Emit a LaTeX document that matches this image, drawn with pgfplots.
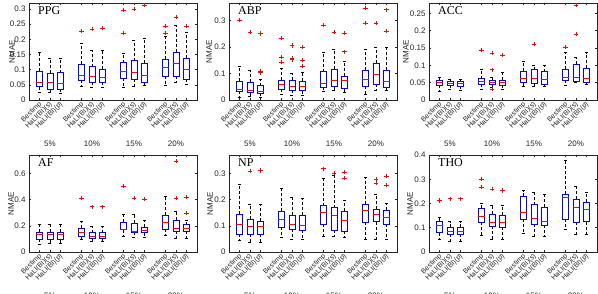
\documentclass[border=0pt]{standalone}
\usepackage{fontspec}
\setmainfont{Liberation Sans}
\newfontfamily\ttlfont{Liberation Serif}
\usepackage{pgfplots}
\pgfplotsset{compat=1.18}
\usepgfplotslibrary{statistics}

\definecolor{mblue}{rgb}{0,0,1}
\definecolor{mred}{rgb}{1,0,0}
\definecolor{axgray}{rgb}{0.15,0.15,0.15}

\pgfplotsset{
  bxs/.style={draw=mblue, line width=0.5pt, solid,
    mark=+, mark size=2.1pt, mark options={draw=mred, solid, line width=0.4pt},
    boxplot/draw direction=y,
    boxplot/box extend=0.6,
    boxplot/whisker extend=0.3,
    boxplot/every median/.style={draw=mred, solid, line width=0.5pt},
    boxplot/every whisker/.style={draw=black, line width=0.4pt, dash pattern=on 3pt off 2pt}},
  panel/.style={scale only axis, width=168pt, height=97pt,
    xmin=0, xmax=16, ymin=0, clip=false,
    axis line style={axgray, line width=0.5pt},
    tick style={axgray, line width=0.5pt},
    tick align=inside, major tick length=2pt,
    xtick={1,2,3,5,6,7,9,10,11,13,14,15},
    xticklabels={Bestimp,HaLI(BI)(s),HaLI(BI)(p),Bestimp,HaLI(BI)(s),HaLI(BI)(p),Bestimp,HaLI(BI)(s),HaLI(BI)(p),Bestimp,HaLI(BI)(s),HaLI(BI)(p)},
    xticklabel style={font=\fontsize{7}{8}\selectfont, rotate=45, anchor=east, text=axgray, yshift=-3pt, xshift=2pt},
    scaled y ticks=false,
    /pgf/number format/assume math mode=true,
    yticklabel style={font=\fontsize{8}{9}\selectfont, text=axgray, /pgf/number format/fixed, /pgf/number format/precision=2},
    ylabel={NMAE},
  }
}
\newcommand{\yl}[1]{\pgfplotsset{ylabel style={font=\fontsize{8}{9}\selectfont, text=axgray, at={(axis description cs:#1,0.5)}, anchor=center}}}
\newcommand{\bx}[7]{\addplot[bxs, boxplot prepared={draw position=#1, lower whisker=#2, lower quartile=#3, median=#4, upper quartile=#5, upper whisker=#6}] coordinates {#7};}
\newcommand{\grp}{%
  \node[font=\fontsize{8}{9}\selectfont, text=axgray, yshift=-44pt] at (axis cs:2,0) {5\%};
  \node[font=\fontsize{8}{9}\selectfont, text=axgray, yshift=-44pt] at (axis cs:6,0) {10\%};
  \node[font=\fontsize{8}{9}\selectfont, text=axgray, yshift=-44pt] at (axis cs:10,0) {15\%};
  \node[font=\fontsize{8}{9}\selectfont, text=axgray, yshift=-44pt] at (axis cs:14,0) {20\%};}
\newcommand{\ttl}[1]{\node[anchor=base west, inner sep=0pt, xshift=9pt, yshift=-11.5pt, font=\ttlfont\fontsize{12}{12}\selectfont] at (rel axis cs:0,1) {#1};}

\begin{document}
\begin{tikzpicture}
% PPG
\begin{axis}[panel, at={(29pt,194pt)}, anchor=south west, ymax=0.32,
  ytick={0,0.05,0.1,0.15,0.2,0.25,0.3}, ylabel style={font=\fontsize{8}{9}\selectfont, text=axgray, at={(axis description cs:-0.101,0.5)}, anchor=center}]
\bx{1}{0.027}{0.044}{0.057}{0.096}{0.159}{}
\bx{2}{0.025}{0.035}{0.059}{0.088}{0.137}{}
\bx{3}{0.024}{0.035}{0.055}{0.090}{0.137}{}
\bx{5}{0.046}{0.066}{0.081}{0.119}{0.187}{(0,0.227)}
\bx{6}{0.042}{0.060}{0.077}{0.110}{0.163}{(0,0.233)}
\bx{7}{0.041}{0.059}{0.075}{0.101}{0.163}{(0,0.237)}
\bx{9}{0.041}{0.071}{0.096}{0.123}{0.156}{(0,0.222)(0,0.296)}
\bx{10}{0.044}{0.069}{0.092}{0.130}{0.198}{(0,0.300)}
\bx{11}{0.049}{0.060}{0.082}{0.121}{0.203}{(0,0.313)}
\bx{13}{0.049}{0.079}{0.108}{0.134}{0.210}{(0,0.222)(0,0.244)}
\bx{14}{0.060}{0.079}{0.121}{0.157}{0.247}{(0,0.273)}
\bx{15}{0.052}{0.068}{0.103}{0.137}{0.225}{(0,0.244)}
\grp
\ttl{PPG}
\end{axis}
% ABP
\begin{axis}[panel, at={(229pt,194pt)}, anchor=south west, ymax=0.365,
  ytick={0,0.1,0.2,0.3}, ylabel style={font=\fontsize{8}{9}\selectfont, text=axgray, at={(axis description cs:-0.119,0.5)}, anchor=center}]
\bx{1}{0.009}{0.032}{0.042}{0.072}{0.126}{(0,0.300)}
\bx{2}{0.013}{0.028}{0.038}{0.066}{0.113}{(0,0.256)}
\bx{3}{0.010}{0.025}{0.034}{0.054}{0.080}{(0,0.103)(0,0.107)(0,0.250)}
\bx{5}{0.021}{0.040}{0.060}{0.076}{0.120}{(0,0.142)(0,0.161)(0,0.233)}
\bx{6}{0.019}{0.038}{0.053}{0.076}{0.100}{(0,0.152)(0,0.156)(0,0.205)(0,0.207)}
\bx{7}{0.019}{0.035}{0.053}{0.072}{0.103}{(0,0.129)(0,0.149)(0,0.199)}
\bx{9}{0.032}{0.048}{0.064}{0.107}{0.180}{(0,0.282)}
\bx{10}{0.035}{0.050}{0.076}{0.116}{0.192}{(0,0.256)}
\bx{11}{0.030}{0.043}{0.073}{0.091}{0.145}{(0,0.182)(0,0.251)}
\bx{13}{0.021}{0.053}{0.078}{0.111}{0.192}{(0,0.290)(0,0.347)}
\bx{14}{0.038}{0.059}{0.098}{0.139}{0.199}{(0,0.290)}
\bx{15}{0.035}{0.048}{0.071}{0.111}{0.198}{(0,0.260)(0,0.340)}
\grp
\ttl{ABP}
\end{axis}
% ACC
\begin{axis}[panel, at={(429pt,194pt)}, anchor=south west, ymax=0.28,
  ytick={0,0.05,0.1,0.15,0.2,0.25}, ylabel style={font=\fontsize{8}{9}\selectfont, text=axgray, at={(axis description cs:-0.137,0.5)}, anchor=center}]
\bx{1}{0.025}{0.044}{0.052}{0.058}{0.065}{}
\bx{2}{0.031}{0.042}{0.048}{0.054}{0.061}{}
\bx{3}{0.029}{0.040}{0.047}{0.054}{0.061}{}
\bx{5}{0.032}{0.046}{0.053}{0.062}{0.088}{(0,0.144)}
\bx{6}{0.037}{0.046}{0.052}{0.058}{0.065}{(0,0.031)(0,0.0875)(0,0.135)}
\bx{7}{0.031}{0.043}{0.050}{0.058}{0.079}{(0,0.129)}
\bx{9}{0.040}{0.050}{0.0625}{0.084}{0.112}{}
\bx{10}{0.041}{0.048}{0.063}{0.088}{0.101}{(0,0.161)}
\bx{11}{0.040}{0.045}{0.061}{0.082}{0.101}{}
\bx{13}{0.043}{0.058}{0.067}{0.090}{0.137}{(0,0.153)}
\bx{14}{0.050}{0.054}{0.067}{0.103}{0.123}{(0,0.190)(0,0.275)}
\bx{15}{0.046}{0.050}{0.063}{0.091}{0.137}{}
\grp
\ttl{ACC}
\end{axis}
% AF
\begin{axis}[panel, at={(29pt,42pt)}, anchor=south west, ymax=0.74,
  ytick={0,0.2,0.4,0.6}, ylabel style={font=\fontsize{8}{9}\selectfont, text=axgray, at={(axis description cs:-0.107,0.5)}, anchor=center}]
\bx{1}{0.056}{0.099}{0.138}{0.153}{0.214}{}
\bx{2}{0.069}{0.094}{0.132}{0.150}{0.209}{}
\bx{3}{0.069}{0.094}{0.132}{0.150}{0.209}{}
\bx{5}{0.099}{0.120}{0.148}{0.183}{0.237}{(0,0.410)}
\bx{6}{0.082}{0.102}{0.117}{0.148}{0.194}{(0,0.346)}
\bx{7}{0.082}{0.107}{0.122}{0.148}{0.194}{(0,0.346)}
\bx{9}{0.120}{0.171}{0.173}{0.227}{0.285}{(0,0.504)}
\bx{10}{0.112}{0.153}{0.155}{0.222}{0.285}{(0,0.410)}
\bx{11}{0.112}{0.148}{0.166}{0.189}{0.245}{(0,0.403)}
\bx{13}{0.125}{0.176}{0.224}{0.280}{0.425}{}
\bx{14}{0.102}{0.158}{0.183}{0.245}{0.310}{(0,0.410)(0,0.693)}
\bx{15}{0.102}{0.158}{0.178}{0.209}{0.245}{(0,0.298)(0,0.418)}
\grp
\ttl{AF}
\end{axis}
% NP
\begin{axis}[panel, at={(229pt,42pt)}, anchor=south west, ymax=0.37,
  ytick={0,0.1,0.2,0.3}, ylabel style={font=\fontsize{8}{9}\selectfont, text=axgray, at={(axis description cs:-0.113,0.5)}, anchor=center}]
\bx{1}{0.044}{0.068}{0.106}{0.144}{0.259}{}
\bx{2}{0.039}{0.068}{0.098}{0.124}{0.182}{(0,0.308)}
\bx{3}{0.039}{0.068}{0.098}{0.117}{0.182}{(0,0.311)}
\bx{5}{0.058}{0.095}{0.126}{0.155}{0.242}{}
\bx{6}{0.050}{0.086}{0.106}{0.141}{0.208}{}
\bx{7}{0.050}{0.083}{0.102}{0.141}{0.204}{}
\bx{9}{0.059}{0.106}{0.150}{0.177}{0.280}{(0,0.318)}
\bx{10}{0.059}{0.083}{0.140}{0.169}{0.292}{(0,0.302)}
\bx{11}{0.058}{0.079}{0.121}{0.155}{0.197}{(0,0.281)(0,0.305)}
\bx{13}{0.047}{0.113}{0.158}{0.184}{0.284}{}
\bx{14}{0.048}{0.116}{0.144}{0.163}{0.222}{(0,0.264)(0,0.277)}
\bx{15}{0.049}{0.106}{0.132}{0.159}{0.187}{(0,0.255)(0,0.291)}
\grp
\ttl{NP}
\end{axis}
% THO
\begin{axis}[panel, at={(429pt,42pt)}, anchor=south west, ymax=0.4,
  ytick={0,0.1,0.2,0.3,0.4}, ylabel style={font=\fontsize{8}{9}\selectfont, text=axgray, at={(axis description cs:-0.113,0.5)}, anchor=center}]
\bx{1}{0.053}{0.080}{0.109}{0.128}{0.143}{(0,0.212)}
\bx{2}{0.044}{0.073}{0.087}{0.102}{0.125}{(0,0.220)}
\bx{3}{0.044}{0.073}{0.084}{0.102}{0.125}{(0,0.220)}
\bx{5}{0.071}{0.122}{0.146}{0.182}{0.200}{(0,0.267)(0,0.301)}
\bx{6}{0.053}{0.106}{0.122}{0.155}{0.195}{(0,0.261)}
\bx{7}{0.053}{0.103}{0.122}{0.152}{0.192}{(0,0.254)}
\bx{9}{0.076}{0.136}{0.163}{0.229}{0.253}{}
\bx{10}{0.065}{0.116}{0.139}{0.195}{0.248}{}
\bx{11}{0.065}{0.110}{0.127}{0.185}{0.237}{}
\bx{13}{0.093}{0.137}{0.224}{0.239}{0.377}{}
\bx{14}{0.073}{0.124}{0.186}{0.219}{0.272}{}
\bx{15}{0.073}{0.125}{0.176}{0.207}{0.246}{}
\grp
\ttl{THO}
\end{axis}
\pgfresetboundingbox
\useasboundingbox (0pt,0pt) rectangle (598pt,294pt);
\end{tikzpicture}
\end{document}
